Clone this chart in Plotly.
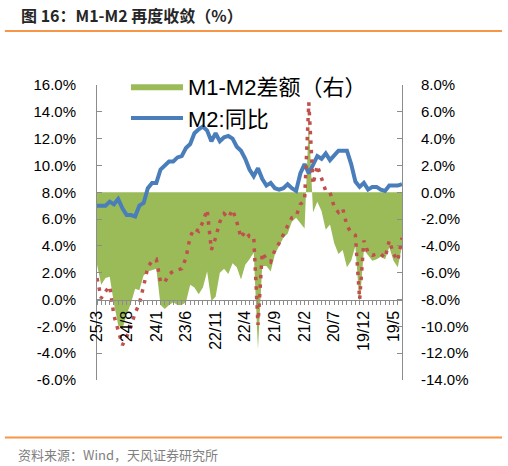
import plotly.graph_objects as go

# months, newest first (x axis runs backwards in time)
months = [
    "25/3", "25/2", "25/1",
    "24/12", "24/11", "24/10", "24/9", "24/8", "24/7", "24/6", "24/5", "24/4", "24/3", "24/2", "24/1",
    "23/12", "23/11", "23/10", "23/9", "23/8", "23/7", "23/6", "23/5", "23/4", "23/3", "23/2", "23/1",
    "22/12", "22/11", "22/10", "22/9", "22/8", "22/7", "22/6", "22/5", "22/4", "22/3", "22/2", "22/1",
    "21/12", "21/11", "21/10", "21/9", "21/8", "21/7", "21/6", "21/5", "21/4", "21/3", "21/2", "21/1",
    "20/12", "20/11", "20/10", "20/9", "20/8", "20/7", "20/6", "20/5", "20/4", "20/3", "20/2", "20/1",
    "19/12", "19/11", "19/10", "19/9", "19/8", "19/7", "19/6", "19/5", "19/4", "19/3",
]

# M2 yoy, %
m2 = [
    7.0, 7.0, 7.0,
    7.3, 7.1, 7.5, 6.8, 6.3, 6.3, 6.2, 7.0, 7.2, 8.3, 8.7, 8.7,
    9.7, 10.0, 10.3, 10.3, 10.6, 10.7, 11.3, 11.6, 12.4, 12.7, 12.9, 12.6,
    11.8, 12.4, 11.8, 12.1, 12.2, 12.0, 11.4, 11.1, 10.5, 9.7, 9.2, 9.8,
    9.0, 8.5, 8.7, 8.3, 8.2, 8.3, 8.6, 8.3, 8.1, 9.4, 10.1, 9.4,
    10.1, 10.7, 10.5, 10.9, 10.4, 10.7, 11.1, 11.1, 11.1, 10.1, 8.8, 8.4,
    8.7, 8.2, 8.4, 8.4, 8.2, 8.1, 8.5, 8.5, 8.5, 8.6,
]

# M1 yoy, % (dotted line, left axis)
m1 = [
    1.6, 0.1, 0.6,
    1.0, -1.2, -2.4, -3.4, -2.8, -2.0, -1.0, -0.3, 1.0, 2.4, 2.9, 3.0,
    1.3, 1.3, 1.9, 2.1, 2.2, 2.3, 3.1, 4.7, 5.3, 5.1, 5.8, 6.7,
    3.7, 4.6, 5.8, 6.4, 6.1, 6.7, 5.8, 4.6, 5.1, 4.7, 4.7, -1.9,
    3.5, 3.0, 2.8, 3.7, 4.2, 4.9, 5.5, 6.1, 6.2, 7.1, 7.4, 14.7,
    8.6, 10.0, 9.1, 8.1, 8.0, 6.9, 6.5, 6.8, 5.5, 5.0, 4.8, 0.0,
    4.4, 3.5, 3.3, 3.4, 3.4, 3.1, 4.4, 3.4, 2.9, 4.6,
]

# M1-M2 gap, % (area, right axis)
m1_m2 = [
    -5.4, -6.9, -6.4,
    -6.3, -8.3, -9.9, -10.2, -9.1, -8.3, -7.2, -7.3, -6.2, -5.9, -5.8, -5.7,
    -8.4, -8.7, -8.4, -8.2, -8.4, -8.4, -8.2, -6.9, -7.1, -7.6, -7.1, -5.9,
    -8.1, -7.8, -6.0, -5.7, -6.1, -5.3, -5.6, -6.5, -5.4, -5.0, -4.5, -11.7,
    -5.5, -5.5, -5.9, -4.6, -4.0, -3.4, -3.1, -2.2, -1.9, -2.3, -2.7, 5.3,
    -1.5, -0.7, -1.4, -2.8, -2.4, -3.8, -4.6, -4.3, -5.6, -5.1, -4.0, -8.4,
    -4.3, -4.7, -5.1, -5.0, -4.8, -5.0, -4.1, -5.1, -5.6, -4.0,
]

left_ticks = [-6, -4, -2, 0, 2, 4, 6, 8, 10, 12, 14, 16]
left_labels = ["-6.0%", "-4.0%", "-2.0%", "0.0%", "2.0%", "4.0%", "6.0%",
               "8.0%", "10.0%", "12.0%", "14.0%", "16.0%"]
right_ticks = [-14, -12, -10, -8, -6, -4, -2, 0, 2, 4, 6, 8]
right_labels = ["-14.0%", "-12.0%", "-10.0%", "-8.0%", "-6.0%", "-4.0%", "-2.0%",
                "0.0%", "2.0%", "4.0%", "6.0%", "8.0%"]

# only every 7th month gets a label
x_labels = [m if i % 7 == 0 else "" for i, m in enumerate(months)]

GREEN = "#9BBB59"
BLUE = "#4A7EBB"
RED = "#C0504D"
AXIS = "#8C8C8C"
ORANGE = "#F79646"
FONT = "Liberation Sans, Noto Sans CJK SC, sans-serif"

fig = go.Figure()
# area on the base axis so the lines on y2 sit above it
fig.add_trace(go.Scatter(
    x=months, y=m1_m2, name="M1-M2差额（右）", yaxis="y",
    mode="lines", fill="tozeroy", fillcolor=GREEN,
    line=dict(color=GREEN, width=0),
))
fig.add_trace(go.Scatter(
    x=months, y=m2, name="M2:同比", yaxis="y2",
    mode="lines", line=dict(color=BLUE, width=4),
))
fig.add_trace(go.Scatter(
    x=months, y=m1, name="M1:同比", yaxis="y2", showlegend=False,
    mode="lines", line=dict(color=RED, width=3.5, dash="3.5px,6px"),
))

fig.update_layout(
    width=508, height=466,
    margin=dict(l=97, r=106, t=85, b=86),
    paper_bgcolor="white", plot_bgcolor="white",
    font=dict(family=FONT, color="black"),
    showlegend=True,
    legend=dict(
        x=0.095, y=1.066, xanchor="left", yanchor="top",
        bgcolor="rgba(0,0,0,0)", font=dict(size=22, family=FONT),
        itemwidth=52, tracegroupgap=0,
    ),
    xaxis=dict(
        type="category", anchor="free", position=6 / 22,
        showline=True, linecolor=AXIS, linewidth=1,
        ticks="outside", ticklen=4, tickcolor=AXIS,
        tickmode="array", tickvals=months, ticktext=x_labels,
        tickangle=-90, tickfont=dict(size=16),
        showgrid=False, zeroline=False,
    ),
    yaxis=dict(
        side="right", range=[-14, 8],
        tickmode="array", tickvals=right_ticks, ticktext=right_labels,
        ticks="inside", ticklen=5, tickcolor=AXIS,
        showline=True, linecolor=AXIS, linewidth=1,
        showgrid=False, zeroline=False, tickfont=dict(size=15),
        ticklabelstandoff=15,
    ),
    yaxis2=dict(
        overlaying="y", side="left", range=[-6, 16],
        tickmode="array", tickvals=left_ticks, ticktext=left_labels,
        ticks="inside", ticklen=5, tickcolor=AXIS,
        showline=True, linecolor=AXIS, linewidth=1,
        showgrid=False, zeroline=False, tickfont=dict(size=15),
        ticklabelstandoff=17,
    ),
)

# header / footer rules and texts (paper coords relative to plot area)
fig.add_shape(type="line", xref="paper", yref="paper",
              x0=-0.302, x1=1.328, y0=1.183, y1=1.183,
              line=dict(color=ORANGE, width=2))
fig.add_shape(type="line", xref="paper", yref="paper",
              x0=-0.302, x1=1.328, y0=-0.195, y1=-0.195,
              line=dict(color=ORANGE, width=2))
fig.add_annotation(text="<b>图 16：M1-M2 再度收敛（%）</b>", xref="paper", yref="paper",
                   x=-0.256, y=1.237, xanchor="left", yanchor="middle", showarrow=False,
                   font=dict(size=16, color="#262626", family="Noto Sans CJK SC, sans-serif"))
fig.add_annotation(text="资料来源：Wind，天风证券研究所", xref="paper", yref="paper",
                   x=-0.266, y=-0.251, xanchor="left", yanchor="middle", showarrow=False,
                   font=dict(size=13, color="#7F7F7F", family="Noto Sans CJK SC, sans-serif"))

# drop the default 8px page margin so the figure sits at the window's corner
fig.write_html("out.html", config={"displayModeBar": False},
               post_script="document.body.style.margin = '0';")
